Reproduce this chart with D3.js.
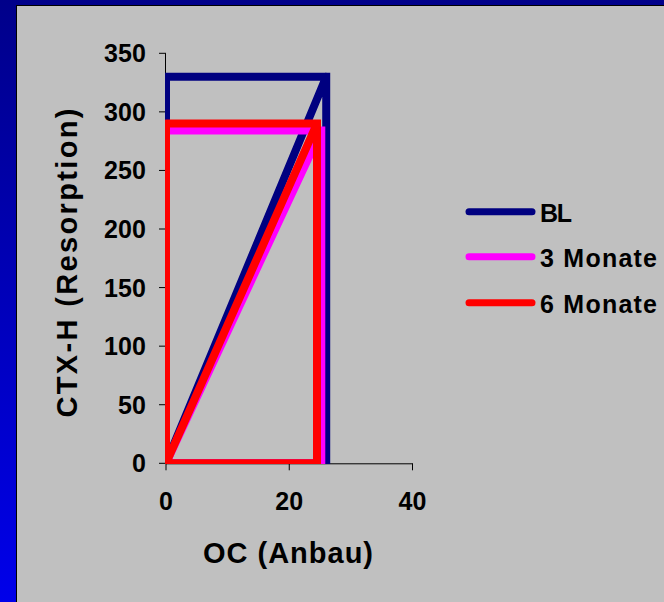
<!DOCTYPE html>
<html>
<head>
<meta charset="utf-8">
<script src="https://cdn.jsdelivr.net/npm/d3@7"></script>
<style>
  html, body { margin: 0; padding: 0; background: #000090; }
  svg { display: block; }
  text { font-family: "Liberation Sans", Arial, sans-serif; font-weight: bold; fill: #000; }
</style>
</head>
<body>
<svg id="chart" width="664" height="602"></svg>
<script>
// Series: mean OC (bone formation) vs CTX-H (resorption) per visit
const seriesNames = ["BL", "3 Monate", "6 Monate"];
const ocValues = [26.0, 25.2, 24.5];
const ctxValues = [330, 284, 290];
const seriesColors = ["#000080", "#ff00ff", "#ff0000"];

const xTicks = [0, 20, 40];
const yTicks = [0, 50, 100, 150, 200, 250, 300, 350];
const xTitle = "OC (Anbau)";
const yTitle = "CTX-H (Resorption)";

const W = 664, H = 602;
const svg = d3.select("#chart");

// slide background: vertical blue gradient with a grey panel
const defs = svg.append("defs");
const grad = defs.append("linearGradient").attr("id", "bg").attr("x1", 0).attr("y1", 0).attr("x2", 0).attr("y2", 1);
grad.append("stop").attr("offset", "0%").attr("stop-color", "#00008a");
grad.append("stop").attr("offset", "100%").attr("stop-color", "#0000ea");
svg.append("rect").attr("width", W).attr("height", H).attr("fill", "url(#bg)");
svg.append("rect").attr("x", 16).attr("y", 5).attr("width", W - 16).attr("height", H - 5).attr("fill", "#000");
svg.append("rect").attr("x", 17).attr("y", 6).attr("width", W - 17).attr("height", H - 6).attr("fill", "#c0c0c0");

const x = d3.scaleLinear().domain([0, 40]).range([166, 412.5]);
const y = d3.scaleLinear().domain([0, 350]).range([463.3, 53.3]);

defs.append("clipPath").attr("id", "plotClip")
  .append("rect")
  .attr("x", x(0) - 1).attr("y", y(350))
  .attr("width", x(40) - x(0) + 1).attr("height", y(0) - y(350) + 0.7);

// axes (drawn beneath the series)
const axisG = svg.append("g");
axisG.append("line").attr("x1", x(0) - 0.5).attr("x2", x(0) - 0.5).attr("y1", y(350)).attr("y2", y(0)).attr("stroke", "#000");
axisG.append("line").attr("x1", x(0)).attr("x2", x(40)).attr("y1", y(0) + 0.5).attr("y2", y(0) + 0.5).attr("stroke", "#000");
yTicks.forEach(t => {
  axisG.append("line").attr("x1", x(0) - 7).attr("x2", x(0)).attr("y1", y(t)).attr("y2", y(t)).attr("stroke", "#000");
  axisG.append("text").attr("x", 146).attr("y", y(t) + 9)
    .attr("text-anchor", "end").attr("font-size", 25).attr("textLength", String(t).length * 14)
    .attr("lengthAdjust", "spacing").text(t);
});
xTicks.forEach(t => {
  axisG.append("line").attr("x1", x(t)).attr("x2", x(t)).attr("y1", y(0)).attr("y2", y(0) + 7).attr("stroke", "#000");
  axisG.append("text").attr("x", x(t)).attr("y", 510)
    .attr("text-anchor", "middle").attr("font-size", 25).text(t);
});

// each series: a rectangle spanning the mean values plus its diagonal
const line = d3.line().x(d => x(d[0])).y(d => y(d[1]));
const plot = svg.append("g").attr("clip-path", "url(#plotClip)");
seriesNames.forEach((name, i) => {
  const ox = ocValues[i], cy = ctxValues[i];
  const pts = [[0, 0], [ox, cy], [ox, 0], [0, 0], [0, cy], [ox, cy]];
  plot.append("path")
    .attr("d", line(pts))
    .attr("fill", "none")
    .attr("stroke", seriesColors[i])
    .attr("stroke-width", 8)
    .attr("stroke-linejoin", "round")
    .attr("stroke-linecap", "square");
});

svg.append("text").attr("x", 288).attr("y", 563).attr("text-anchor", "middle")
  .attr("font-size", 29).attr("textLength", 170).attr("lengthAdjust", "spacing").text(xTitle);
svg.append("text").attr("transform", "translate(77,263) rotate(-90)").attr("text-anchor", "middle")
  .attr("font-size", 29).attr("textLength", 309).attr("lengthAdjust", "spacing").text(yTitle);

// legend
const legendY = [211.7, 256.7, 302.7];
const legendW = [32, 117, 117];
seriesNames.forEach((name, i) => {
  svg.append("line").attr("x1", 469).attr("x2", 532).attr("y1", legendY[i]).attr("y2", legendY[i])
    .attr("stroke", seriesColors[i]).attr("stroke-width", 7).attr("stroke-linecap", "round");
  svg.append("text").attr("x", 540).attr("y", legendY[i] + 10.5)
    .attr("font-size", 25).attr("textLength", legendW[i]).attr("lengthAdjust", "spacing").text(name);
});
</script>
</body>
</html>
